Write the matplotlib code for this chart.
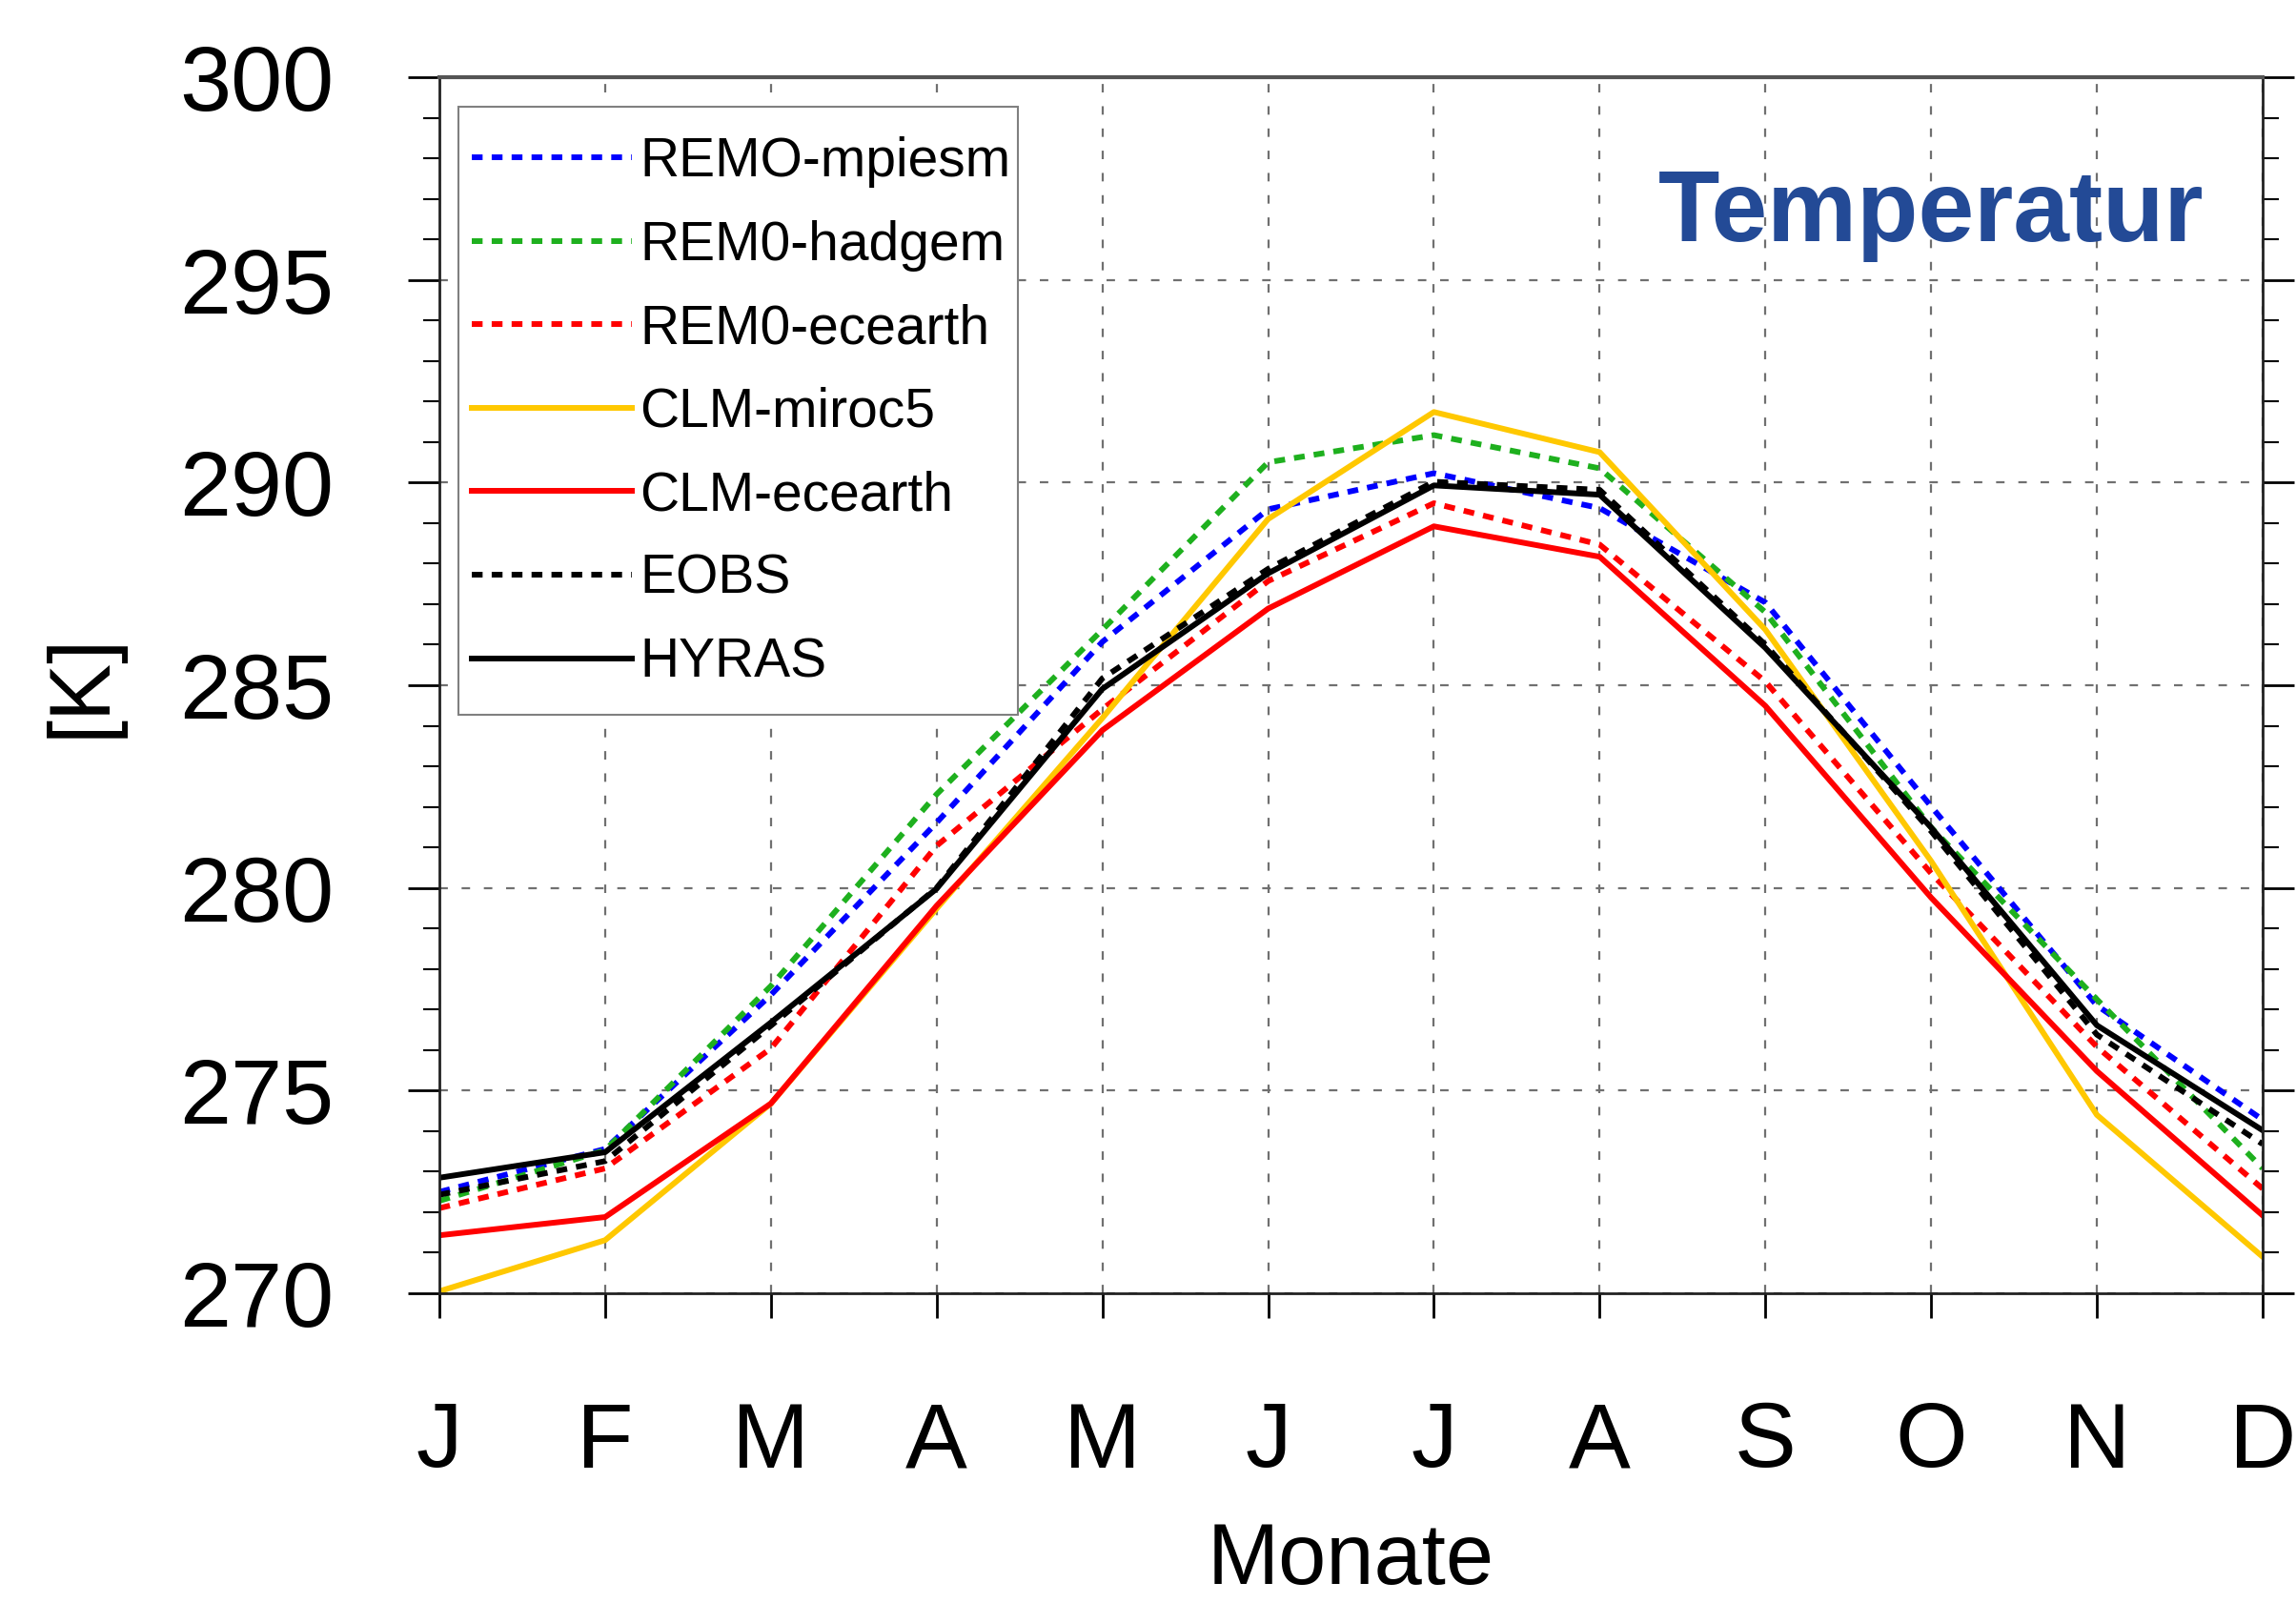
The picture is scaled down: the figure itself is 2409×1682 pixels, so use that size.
import numpy as np
import matplotlib.pyplot as plt
from matplotlib.patches import Rectangle

plt.rcParams['font.family'] = ['Liberation Sans', 'DejaVu Sans']

months = ["J", "F", "M", "A", "M", "J", "J", "A", "S", "O", "N", "D"]

remo_mpiesm = [272.5, 273.56, 277.36, 281.61, 286.07, 289.34, 290.23, 289.37, 287.04, 282.01, 277.1, 274.28]
remo_hadgem = [272.28, 273.53, 277.58, 282.31, 286.37, 290.50, 291.17, 290.35, 286.8, 281.49, 277.25, 273.08]
remo_ecearth = [272.10, 273.08, 276.04, 281.04, 284.41, 287.57, 289.49, 288.47, 285.09, 280.36, 276.08, 272.58]
clm_miroc5 = [270.05, 271.31, 274.68, 279.49, 284.19, 289.10, 291.74, 290.75, 286.37, 280.66, 274.40, 270.90]
clm_ecearth = [271.43, 271.88, 274.68, 279.56, 283.89, 286.89, 288.92, 288.17, 284.49, 279.76, 275.48, 271.92]
eobs = [272.43, 273.26, 276.6, 280.0, 285.17, 287.87, 290.02, 289.82, 286.0, 281.4, 276.38, 273.68]
hyras = [272.85, 273.48, 276.68, 279.98, 284.91, 287.76, 289.93, 289.70, 285.92, 281.49, 276.61, 274.02]

x = np.arange(len(months))

W, H = 2409, 1682
fig = plt.figure(figsize=(W/100, H/100), dpi=100)
ax = fig.add_axes([461/W, 1-1357/H, (2374-461)/W, (1357-81)/H])

lw = 4.3
dash = (1.9, 1.6)
ax.plot(x, remo_mpiesm, color='#0000ff', lw=lw, dashes=dash, label='REMO-mpiesm')
ax.plot(x, remo_hadgem, color='#1eb01e', lw=lw, dashes=dash, label='REM0-hadgem')
ax.plot(x, remo_ecearth, color='#ff0000', lw=lw, dashes=dash, label='REM0-ecearth')
ax.plot(x, clm_miroc5, color='#ffc800', lw=lw, label='CLM-miroc5')
ax.plot(x, clm_ecearth, color='#ff0000', lw=lw, label='CLM-ecearth')
ax.plot(x, eobs, color='black', lw=lw, dashes=dash, label='EOBS')
ax.plot(x, hyras, color='black', lw=lw, label='HYRAS')

ax.set_xlim(0, 11)
ax.set_ylim(270, 300)
ax.set_xticks(x)
ax.set_xticklabels(months)
ax.set_yticks(np.arange(270, 301, 5))
ax.set_yticks(np.arange(270, 301, 1), minor=True)

ax.grid(True, which='major', color='#707070', lw=1.6, dashes=(4, 6.5))
ax.set_axisbelow(True)

ax.tick_params(axis='x', which='major', direction='out', length=19, width=2,
               labelsize=70, pad=62)
ax.tick_params(axis='y', which='major', direction='out', length=24, width=2,
               labelsize=70, pad=56, right=True)
ax.tick_params(axis='y', which='minor', direction='out', length=12, width=1.5,
               right=True)
for s in ax.spines.values():
    s.set_linewidth(2)
    s.set_color('#222222')
ax.spines['top'].set_color('#555555')
ax.spines['top'].set_linewidth(3)

fig.text(86/W, 0.5725, '[K]', fontsize=65, rotation=90, ha='center', va='center')
fig.text(1417/W, 1/H, 'Monate', fontsize=65, ha='center', va='bottom')

fig.text(2312/W, 1-253/H, 'Temperatur', fontsize=76, fontweight='bold',
         color='#234a96', ha='right', va='baseline')

# legend box drawn separately so the padding matches
box = Rectangle((481/W, 1-750/H), (1068-481)/W, (750-112)/H, transform=fig.transFigure,
                facecolor='white', edgecolor='#808080', lw=1.5, zorder=4, clip_on=False)
ax.add_patch(box)
leg = ax.legend(loc='upper left', bbox_to_anchor=(495/W, 1-143/H),
                bbox_transform=fig.transFigure, borderaxespad=0, fontsize=41,
                handlelength=2.95, handletextpad=0.14, labelspacing=0.59,
                borderpad=0, frameon=False)
leg.set_zorder(5)

fig.savefig('out.png', dpi=100)
